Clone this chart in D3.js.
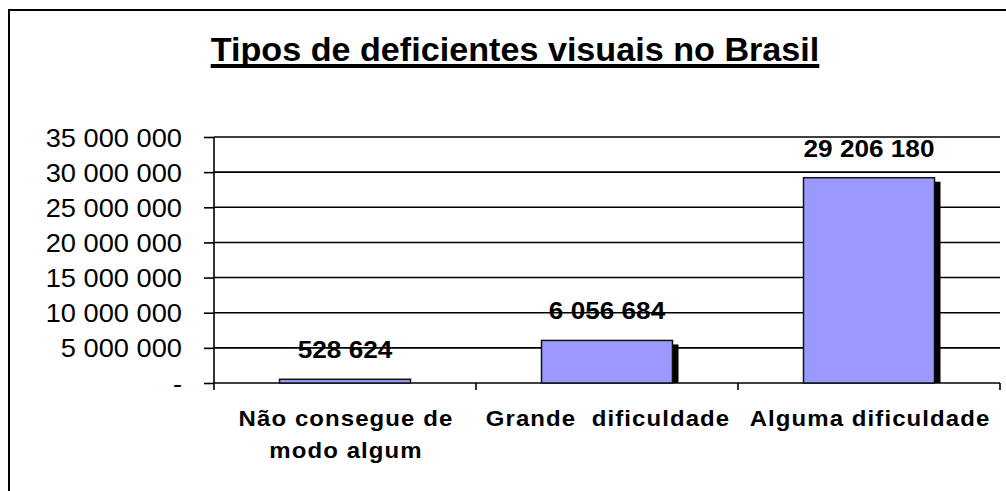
<!DOCTYPE html>
<html>
<head>
<meta charset="utf-8">
<script src="https://cdn.jsdelivr.net/npm/d3@7"></script>
<style>
  body { margin: 0; background: #fff; }
  svg { display: block; font-family: "Liberation Sans", Arial, sans-serif; }
  text { white-space: pre; }
</style>
</head>
<body>
<div class="wrapper"></div>
<script>
const title = "Tipos de deficientes visuais no Brasil";
const categories = ["Não consegue de\nmodo algum", "Grande  dificuldade", "Alguma dificuldade"];
const values = [528624, 6056684, 29206180];
const yTicks = [0, 5000000, 10000000, 15000000, 20000000, 25000000, 30000000, 35000000];

const width = 1006, height = 491;
const plot = { left: 214, right: 1000, top: 137, bottom: 383 };
const stretch = 1.09; // the text in the picture is a bit wide

const svg = d3.select(".wrapper")
  .append("svg")
  .attr("width", width)
  .attr("height", height);

// outer frame (only left and top show in the picture)
svg.append("rect")
  .attr("x", 9).attr("y", 10)
  .attr("width", 1200).attr("height", 700)
  .attr("fill", "none")
  .attr("stroke", "#000")
  .attr("stroke-width", 2);

const locale = d3.formatLocale({ decimal: ",", thousands: " ", grouping: [3], currency: ["", ""] });
const fmt = locale.format(",d");
const tickFmt = d => d === 0 ? "-" : fmt(d);

const x = d3.scaleBand()
  .domain(categories)
  .range([plot.left, plot.right])
  .padding(0);

const y = d3.scaleLinear()
  .domain([0, 35000000])
  .range([plot.bottom, plot.top]);

// title
const t = svg.append("text")
  .attr("transform", "translate(515,61) scale(1.035,1)")
  .attr("text-anchor", "middle")
  .style("font-size", "33px")
  .style("font-weight", "bold")
  .text(title);
const tb = t.node().getBoundingClientRect();
svg.append("rect")
  .attr("x", tb.left)
  .attr("y", 64)
  .attr("width", tb.width)
  .attr("height", 4)
  .attr("fill", "#000");

// gridlines
svg.append("g")
  .selectAll("line")
  .data(yTicks.filter(d => d > 0))
  .enter()
  .append("line")
  .attr("x1", plot.left)
  .attr("x2", plot.right)
  .attr("y1", d => y(d))
  .attr("y2", d => y(d))
  .attr("stroke", "#000")
  .attr("stroke-width", 1.6);

// y axis
const yAxis = svg.append("g")
  .attr("transform", `translate(${plot.left},0)`)
  .call(d3.axisLeft(y).tickValues(yTicks).tickFormat(tickFmt).tickSize(10));
yAxis.select(".domain").attr("stroke", "#000").attr("stroke-width", 1.6)
  .attr("d", `M0,${plot.top}V${plot.bottom + 7}`);
yAxis.selectAll(".tick line").attr("stroke", "#000").attr("stroke-width", 1.6);
yAxis.selectAll(".tick text")
  .attr("x", 0)
  .attr("dy", "0.36em")
  .attr("transform", `translate(-32,0) scale(${stretch},1)`)
  .attr("fill", "#000")
  .style("font-size", "25px")
  .style("font-family", "Liberation Sans, Arial, sans-serif");

// x axis line and category ticks
svg.append("line")
  .attr("x1", plot.left).attr("x2", plot.right)
  .attr("y1", plot.bottom).attr("y2", plot.bottom)
  .attr("stroke", "#000").attr("stroke-width", 1.6);
svg.append("g")
  .selectAll("line")
  .data(categories)
  .enter()
  .append("line")
  .attr("x1", d => x(d) + x.bandwidth())
  .attr("x2", d => x(d) + x.bandwidth())
  .attr("y1", plot.bottom)
  .attr("y2", plot.bottom + 7)
  .attr("stroke", "#000").attr("stroke-width", 1.6);

// bars with shadow
const bw = x.bandwidth() * 0.5;
const bars = svg.append("g")
  .selectAll("g")
  .data(categories)
  .enter()
  .append("g");

bars.append("rect")
  .attr("x", (d, i) => x(d) + x.bandwidth() * 0.25 + 4)
  .attr("y", (d, i) => y(values[i]) + 4)
  .attr("width", bw + 2)
  .attr("height", (d, i) => plot.bottom - y(values[i]) - 4)
  .attr("fill", "#000");

bars.append("rect")
  .attr("x", (d, i) => x(d) + x.bandwidth() * 0.25)
  .attr("y", (d, i) => y(values[i]))
  .attr("width", bw)
  .attr("height", (d, i) => plot.bottom - y(values[i]))
  .attr("fill", "#9999FF")
  .attr("stroke", "#111")
  .attr("stroke-width", 1.5);

// value labels
bars.append("text")
  .attr("transform", (d, i) => `translate(${x(d) + x.bandwidth() / 2},${y(values[i]) - 21}) scale(${stretch},1)`)
  .attr("text-anchor", "middle")
  .style("font-size", "24px")
  .style("font-weight", "bold")
  .text((d, i) => fmt(values[i]));

// category labels
const cat = svg.append("g")
  .selectAll("text")
  .data(categories)
  .enter()
  .append("text")
  .attr("transform", d => `translate(${x(d) + x.bandwidth() / 2 + 1},426) scale(${stretch},1)`)
  .attr("text-anchor", "middle")
  .style("font-size", "22px")
  .style("font-weight", "bold")
  .style("letter-spacing", "1px");

cat.selectAll("tspan")
  .data(d => d.split("\n"))
  .enter()
  .append("tspan")
  .attr("x", 0)
  .attr("dy", (d, i) => i === 0 ? 0 : 32)
  .text(d => d);
</script>
</body>
</html>
